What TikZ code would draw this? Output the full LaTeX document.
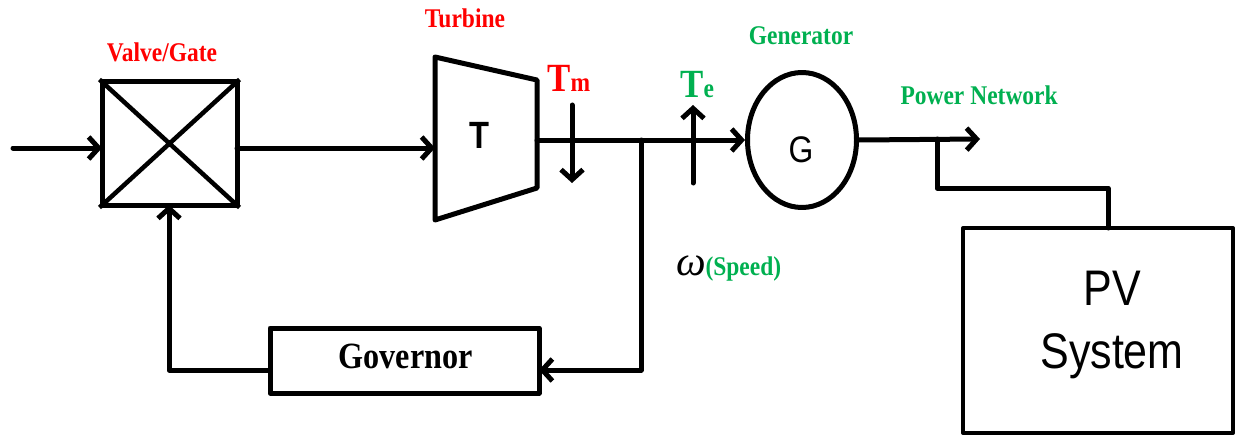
\documentclass[tikz,border=0pt]{standalone}
\usepackage{fontspec}
\setmainfont{Liberation Serif}
\newfontfamily\lbl[FakeStretch=0.87]{Liberation Serif}
\newfontfamily\sfl[FakeStretch=0.86]{Liberation Sans}
\usetikzlibrary{arrows.meta,shapes.geometric}
\definecolor{lred}{RGB}{255,0,0}
\definecolor{lgreen}{RGB}{0,176,80}
\begin{document}
\begin{tikzpicture}[x=1pt,y=-1pt,line width=5pt,line join=round,line cap=round,
  arr/.style={-{Straight Barb[length=10pt,width=22pt]}},
  blk/.style={draw,inner sep=0pt,line width=5pt},
  redlbl/.style={text=lred,font=\lbl\bfseries\fontsize{27}{27}\selectfont,inner sep=0pt},
  grnlbl/.style={text=lgreen,font=\lbl\bfseries\fontsize{27}{27}\selectfont,inner sep=0pt}]
\useasboundingbox (0,0) rectangle (1235,436);

% valve
\node[blk,minimum width=135pt,minimum height=123pt] (valve) at (169.5,143.5) {};
\draw[line width=4.5pt,line cap=butt] (valve.north west) -- (valve.south east) (valve.north east) -- (valve.south west);
\node[redlbl,anchor=base] (valvelbl) at (162,62) {Valve/Gate};

% input
\coordinate (src) at (13,148);
\coordinate (vin) at (102,148);
\draw[arr] (src) -- (vin);

% turbine
\draw (435,57) coordinate (t1) -- (537,80) coordinate (t2) -- (537,188) coordinate (t3) -- (435,220) coordinate (t4) -- cycle;
\node[font=\sfl\bfseries\fontsize{38}{38}\selectfont,anchor=base,inner sep=0pt] (tlbl) at (479,148) {T};
\node[redlbl,anchor=base] (turblbl) at (465,28) {Turbine};
\coordinate (vout) at (237,148);
\coordinate (tin) at (435,148);
\draw[arr] (vout) -- (tin);

% generator
\node[draw,ellipse,minimum width=109pt,minimum height=135pt,inner sep=0pt] (gen) at (802,140) {};
\node[font=\sfl\fontsize{37}{37}\selectfont,anchor=base,inner sep=0pt] (glbl) at (801,162) {G};
\node[grnlbl,anchor=base] (genlbl) at (801,45) {Generator};
\coordinate (tout) at (537,140);
\draw[arr] (tout) -- (gen.west);

% torques
\coordinate (tm1) at (572,105);
\coordinate (tm2) at (572,183);
\draw[arr] (tm1) -- (tm2);
\node[anchor=base west,inner sep=0pt,text=lred,font=\lbl\bfseries] (tmlbl) at (545,92)
  {{\fontsize{40}{40}\selectfont T}{\fontsize{27}{27}\selectfont m}};
\coordinate (te1) at (693,183);
\coordinate (te2) at (693,105);
\draw[arr] (te1) -- (te2);
\node[anchor=base west,inner sep=0pt,text=lgreen,font=\lbl\bfseries] (telbl) at (678,98)
  {{\fontsize{40}{40}\selectfont T}{\fontsize{27}{27}\selectfont e}};

% speed feedback
\node[blk,minimum width=269pt,minimum height=65pt] (gov) at (404.5,360.5) {};
\node[anchor=base west,inner sep=0pt,font=\lbl\bfseries\fontsize{37}{37}\selectfont] (govlbl) at (336,368) {Governor};
\coordinate (jn) at (641,140);
\coordinate (gr) at (539,370);
\draw[arr] (jn) |- (gr);
\coordinate (gl) at (270,370);
\coordinate (vbot) at (169,205);
\draw[arr] (gl) -| (vbot);
\node[anchor=base west,inner sep=0pt,font=\itshape\fontsize{42}{42}\selectfont] (omega) at (674,275) {ω};
\node[grnlbl,anchor=base west] (speedlbl) at (703,275) {(Speed)};

% power network
\coordinate (pn) at (980,139);
\draw[arr] (gen.east) -- (pn);
\node[grnlbl,anchor=base west] (pnlbl) at (898,105) {Power Network};

% PV system
\node[blk,line width=4pt,minimum width=270pt,minimum height=205pt] (pv) at (1098,330.5) {};
\node[anchor=base,inner sep=0pt,font=\sfl\fontsize{50}{50}\selectfont] (pv1) at (1112,305) {PV};
\node[anchor=base,inner sep=0pt,font=\sfl\fontsize{50}{50}\selectfont] (pv2) at (1112,368) {System};
\coordinate (br) at (937,139);
\coordinate (pvin) at (1108,228);
\draw (br) -- (937,188) -| (pvin);
\end{tikzpicture}
\end{document}
